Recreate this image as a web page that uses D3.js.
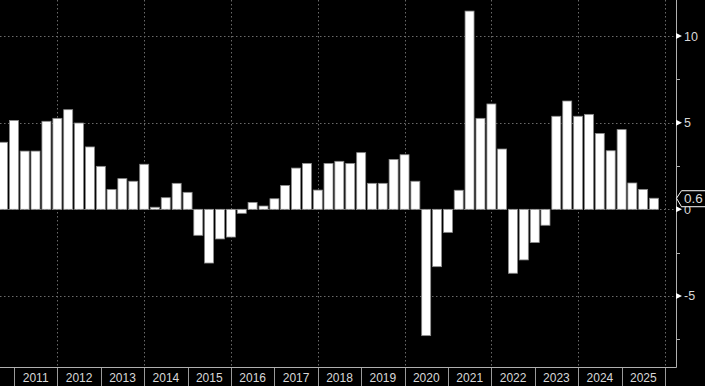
<!DOCTYPE html>
<html>
<head>
<meta charset="utf-8">
<script src="https://cdn.jsdelivr.net/npm/d3@7"></script>
<style>
  body { margin: 0; background: #000; }
  svg { display: block; }
  text { font-family: "Liberation Sans", sans-serif; fill: #d8d8d8; }
</style>
</head>
<body>
<svg id="chart" width="705" height="386"></svg>
<script>
// quarterly values, 2010 Q3 .. 2025 Q3
var quarters = ["2010Q3","2010Q4",
  "2011Q1","2011Q2","2011Q3","2011Q4",
  "2012Q1","2012Q2","2012Q3","2012Q4",
  "2013Q1","2013Q2","2013Q3","2013Q4",
  "2014Q1","2014Q2","2014Q3","2014Q4",
  "2015Q1","2015Q2","2015Q3","2015Q4",
  "2016Q1","2016Q2","2016Q3","2016Q4",
  "2017Q1","2017Q2","2017Q3","2017Q4",
  "2018Q1","2018Q2","2018Q3","2018Q4",
  "2019Q1","2019Q2","2019Q3","2019Q4",
  "2020Q1","2020Q2","2020Q3","2020Q4",
  "2021Q1","2021Q2","2021Q3","2021Q4",
  "2022Q1","2022Q2","2022Q3","2022Q4",
  "2023Q1","2023Q2","2023Q3","2023Q4",
  "2024Q1","2024Q2","2024Q3","2024Q4",
  "2025Q1","2025Q2","2025Q3"];
var values = [3.87, 5.13,
  3.36, 3.36, 5.08, 5.25,
  5.75, 4.98, 3.6, 2.48,
  1.15, 1.77, 1.62, 2.6,
  0.12, 0.67, 1.5, 0.98,
  -1.5, -3.1, -1.71, -1.6,
  -0.23, 0.4, 0.19, 0.61,
  1.38, 2.38, 2.65, 1.11,
  2.65, 2.77, 2.65, 3.27,
  1.5, 1.5, 2.88, 3.15,
  1.62, -7.29, -3.31, -1.33,
  1.1, 11.44, 5.25, 6.08,
  3.48, -3.69, -2.92, -1.92,
  -0.92, 5.37, 6.25, 5.37,
  5.48, 4.38, 3.38, 4.6,
  1.52, 1.15, 0.64];
var years = [2011,2012,2013,2014,2015,2016,2017,2018,2019,2020,2021,2022,2023,2024,2025];
var majorTicks = [10, 5, 0, -5];
var minorTicks = [7.5, 2.5, -2.5, -7.5];
var gridYears = [2012, 2014, 2016, 2018, 2020, 2022, 2024, 2026];

var svg = d3.select('#chart');
var plotRight = 676, plotBottom = 367;

var x = d3.scaleTime()
  .domain([new Date(2011, 0, 1), new Date(2026, 0, 1)])
  .range([14, 665]);
var y = d3.scaleLinear()
  .domain([-9.1, 12.08])
  .range([plotBottom, 0]);

function quarterEnd(q) {
  var yr = +q.slice(0, 4), n = +q.slice(5);
  return new Date(yr, n * 3, 1);
}

// grid
var grid = svg.append('g').attr('stroke', '#6a6a6a').attr('stroke-dasharray', '1.5,2.5');
grid.selectAll('line.gy').data(majorTicks).enter().append('line')
  .attr('x1', 0).attr('x2', plotRight)
  .attr('y1', function(d){ return Math.round(y(d)) + 0.5; })
  .attr('y2', function(d){ return Math.round(y(d)) + 0.5; });
grid.selectAll('line.gx').data(gridYears).enter().append('line')
  .attr('x1', function(d){ return Math.round(x(new Date(d, 0, 1))) + 0.5; })
  .attr('x2', function(d){ return Math.round(x(new Date(d, 0, 1))) + 0.5; })
  .attr('y1', 0).attr('y2', plotBottom);

// bars
var bw = 9;
svg.append('g').selectAll('rect').data(values).enter().append('rect')
  .attr('x', function(d, i){ return x(quarterEnd(quarters[i])) - bw / 2; })
  .attr('width', bw)
  .attr('y', function(d){ return y(Math.max(0, d)); })
  .attr('height', function(d){ return Math.abs(y(d) - y(0)); })
  .attr('fill', '#fff')
  .attr('stroke', '#8a8a8a')
  .attr('stroke-width', 0.8);

// axis frame
svg.append('path')
  .attr('d', 'M' + (plotRight + 0.5) + ',0V' + (plotBottom + 0.5) + 'H0')
  .attr('fill', 'none').attr('stroke', '#b0b0b0').attr('stroke-width', 1);

// year labels
svg.append('g').selectAll('line').data(years.concat([2026])).enter().append('line')
  .attr('x1', function(d){ return Math.round(x(new Date(d, 0, 1))) + 0.5; })
  .attr('x2', function(d){ return Math.round(x(new Date(d, 0, 1))) + 0.5; })
  .attr('y1', plotBottom + 1).attr('y2', 386)
  .attr('stroke', '#9a9a9a');
svg.append('g').selectAll('text').data(years).enter().append('text')
  .attr('x', function(d){ return (x(new Date(d, 0, 1)) + x(new Date(d + 1, 0, 1))) / 2; })
  .attr('y', 382)
  .attr('text-anchor', 'middle')
  .attr('font-size', 12)
  .text(function(d){ return d; });

// right axis ticks
var ax = svg.append('g');
ax.selectAll('path').data(majorTicks).enter().append('path')
  .attr('d', function(d){ var yy = y(d); return 'M676,' + (yy - 3) + 'L682,' + yy + 'L676,' + (yy + 3) + 'Z'; })
  .attr('fill', '#fff');
ax.selectAll('line').data(minorTicks).enter().append('line')
  .attr('x1', 676).attr('x2', 680)
  .attr('y1', function(d){ return Math.round(y(d)) + 0.5; })
  .attr('y2', function(d){ return Math.round(y(d)) + 0.5; })
  .attr('stroke', '#b0b0b0');
ax.selectAll('text').data(majorTicks).enter().append('text')
  .attr('x', 684)
  .attr('y', function(d){ return y(d) + 4.5; })
  .attr('font-size', 12.5)
  .text(function(d){ return d < 0 ? '-' + Math.abs(d) : d; });

// last value tag
var last = values[values.length - 1], ly = y(last);
svg.append('path')
  .attr('d', 'M676.5,' + ly + 'L681.5,' + (ly - 7.5) + 'H706V' + (ly + 8.5) + 'H681.5Z')
  .attr('fill', '#000').attr('stroke', '#fff').attr('stroke-width', 1);
svg.append('text')
  .attr('x', 684).attr('y', ly + 5)
  .attr('font-size', 13.5)
  .attr('fill', '#e8e8e8')
  .text(last.toFixed(1));
</script>
</body>
</html>
